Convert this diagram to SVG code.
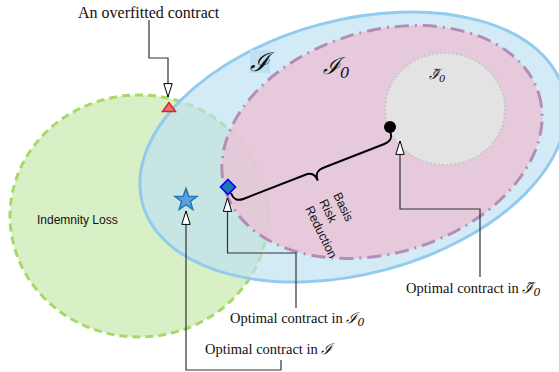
<svg xmlns="http://www.w3.org/2000/svg" width="559" height="372" viewBox="0 0 559 372">
<defs>
<style>
.lbl{font-family:"Liberation Serif","Times New Roman",serif;fill:#111}
.math{font-family:"DejaVu Serif","Liberation Serif",serif;font-style:italic;fill:#111}
.sans{font-family:"Liberation Sans",Arial,sans-serif;fill:#111}
.conn{fill:none;stroke:#333;stroke-width:1.2}
</style>
<marker id="hollow" viewBox="0 0 15 10" refX="14.2" refY="5" markerWidth="15" markerHeight="10" markerUnits="userSpaceOnUse" orient="auto-start-reverse">
<path d="M14.2,5 L0.8,0.8 L0.8,9.2 Z" fill="#fff" stroke="#000" stroke-width="1"/>
</marker>
</defs>
<rect width="559" height="372" fill="#fff"/>

<g id="indemnity-loss">
<ellipse cx="139" cy="216" rx="129" ry="121" fill="#d9efc6" stroke="#a6d96a" stroke-width="3" stroke-dasharray="8 5"/>
<text class="sans" x="37" y="224" font-size="12">Indemnity Loss</text>
</g>

<g id="set-I">
<ellipse cx="353" cy="147" rx="218" ry="127" transform="rotate(-15 353 147)" fill="rgb(187,223,243)" fill-opacity="0.65" stroke="#93cbef" stroke-width="3"/>
<rect x="250" y="50" width="20" height="23" fill="#bfe0f4"/>
<text class="math" x="250" y="71" font-size="26">ℐ</text>
</g>

<g id="set-I0">
<ellipse cx="382" cy="142" rx="164" ry="111" transform="rotate(-17 382 142)" fill="rgb(235,194,212)" fill-opacity="0.8" stroke="#b48db7" stroke-width="3" stroke-dasharray="14 6 2 6"/>
<text class="math" x="323" y="74" font-size="23">ℐ<tspan font-size="15" dy="4">0</tspan></text>
</g>

<g id="set-I0-tilde">
<ellipse cx="445" cy="109" rx="60" ry="56" fill="#e3e3e3" stroke="#c8c8c8" stroke-width="2" stroke-dasharray="2 2"/>
<text class="math" x="429" y="79" font-size="14">ℐ̃<tspan font-size="10" dy="3">0</tspan></text>
</g>

<g id="connectors">
<polyline class="conn" points="149,20 149,58 168,58 168,97" marker-end="url(#hollow)"/>
<polyline class="conn" points="186,211 186,370 281,370 281,360" marker-start="url(#hollow)"/>
<polyline class="conn" points="227.5,198 227.5,253 296,253 296,308" marker-start="url(#hollow)"/>
<polyline class="conn" points="400,141 400,209 480,209 480,277" marker-start="url(#hollow)"/>
</g>

<g id="brace">
<path d="M390,131 C392.9,138.5 389.9,141.8 384.3,144 L323.4,167.7 C317.9,169.9 314.9,173.2 317.8,180.6 C314.9,173.2 310.4,172.8 304.8,175 L243.9,198.7 C238.3,200.9 233.9,200.5 231,193" fill="none" stroke="#000" stroke-width="2"/>
<g transform="translate(341,191) rotate(64)">
<text class="sans" font-size="12.5" x="0" y="9">Basis</text>
<text class="sans" font-size="12.5" x="0" y="24.5">Risk</text>
<text class="sans" font-size="12.5" x="0" y="40">Reduction</text>
</g>
</g>

<g id="overfitted-contract">
<path d="M169,102.5 L175.5,111.5 L162.5,111.5 Z" fill="#f06a73" stroke="#d62728" stroke-width="1.5"/>
<text class="lbl" x="78" y="18" font-size="16">An overfitted contract</text>
</g>

<g id="optimal-I">
<path d="M186,188.5 L188.7,196.3 L197,196.5 L190.4,201.5 L192.8,209.5 L186,204.7 L179.2,209.5 L181.6,201.5 L175,196.5 L183.3,196.3 Z" fill="#5aa0dc" stroke="#1f77b4" stroke-width="1.5"/>
<text class="lbl" x="205" y="354" font-size="14.5">Optimal contract in <tspan class="math" font-size="15">ℐ</tspan></text>
</g>

<g id="optimal-I0">
<path d="M228,179.5 L235.5,187 L228,194.5 L220.5,187 Z" fill="#1f77b4" stroke="#0000ff" stroke-width="1.6"/>
<text class="lbl" x="230" y="323" font-size="14.5">Optimal contract in <tspan class="math" font-size="15">ℐ</tspan><tspan class="math" font-size="11" dy="3">0</tspan></text>
</g>

<g id="optimal-I0-tilde">
<circle cx="390" cy="127" r="6" fill="#000"/>
<text class="lbl" x="406" y="293" font-size="14.5">Optimal contract in <tspan class="math" font-size="15">ℐ̃</tspan><tspan class="math" font-size="11" dy="3">0</tspan></text>
</g>
</svg>
